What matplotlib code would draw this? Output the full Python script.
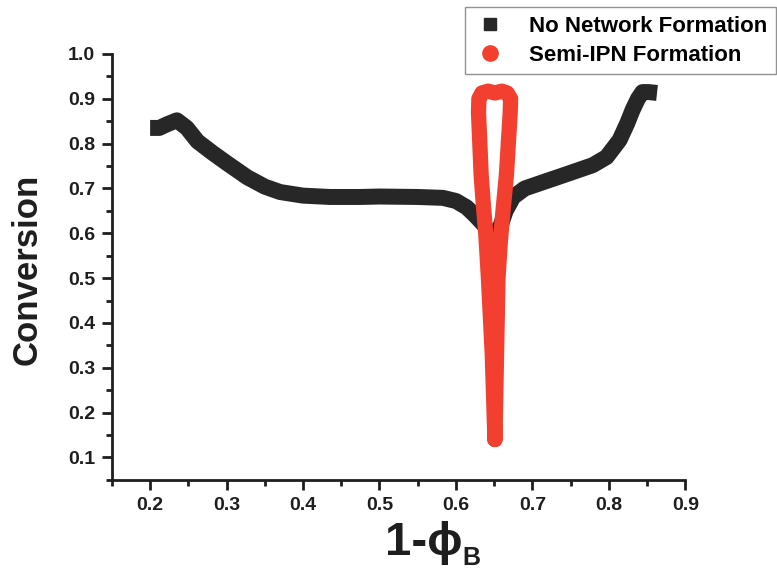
import matplotlib
matplotlib.use('Agg')
import matplotlib.pyplot as plt
from matplotlib.lines import Line2D
from matplotlib.ticker import MultipleLocator

plt.rcParams['font.family'] = ['Liberation Sans', 'DejaVu Sans']
plt.rcParams['font.weight'] = 'bold'

# No network formation (black band)
x_none = [0.200, 0.212, 0.222, 0.235, 0.248, 0.262, 0.282, 0.300, 0.327,
          0.350, 0.370, 0.400, 0.435, 0.475, 0.500, 0.550, 0.583, 0.600,
          0.614, 0.625, 0.636, 0.645, 0.650, 0.656, 0.665, 0.675, 0.690,
          0.714, 0.745, 0.779, 0.797, 0.814, 0.824, 0.831, 0.838, 0.844,
          0.852, 0.863]
y_none = [0.835, 0.835, 0.843, 0.852, 0.835, 0.805, 0.779, 0.757, 0.725,
          0.704, 0.692, 0.684, 0.681, 0.681, 0.682, 0.681, 0.679, 0.672,
          0.658, 0.640, 0.620, 0.598, 0.585, 0.605, 0.650, 0.681, 0.700,
          0.714, 0.732, 0.752, 0.770, 0.808, 0.845, 0.875, 0.900, 0.915,
          0.915, 0.913]

# Semi-IPN formation (red loop)
x_ipn = [0.651, 0.6475, 0.6425, 0.639, 0.636, 0.633, 0.6295, 0.630, 0.634,
         0.642, 0.651, 0.660, 0.667, 0.6715, 0.671, 0.666, 0.661, 0.658,
         0.655, 0.651]
y_ipn = [0.140, 0.330, 0.500, 0.600, 0.660, 0.730, 0.870, 0.900, 0.913,
         0.917, 0.913, 0.917, 0.913, 0.900, 0.870, 0.730, 0.640, 0.580,
         0.500, 0.140]

x_ticks = [0.2, 0.3, 0.4, 0.5, 0.6, 0.7, 0.8, 0.9]
y_ticks = [0.1, 0.2, 0.3, 0.4, 0.5, 0.6, 0.7, 0.8, 0.9, 1.0]

black = '#272727'
red = '#f23f2f'
ink = '#1e1e1e'

fig = plt.figure(figsize=(7.77, 5.74), dpi=100)
ax = fig.add_axes([0.144, 0.164, 0.738, 0.742])

ax.plot(x_none, y_none, color=black, lw=11.5, solid_joinstyle='round',
        solid_capstyle='butt', zorder=2)
ax.plot(x_ipn, y_ipn, color=red, lw=11, solid_joinstyle='round',
        solid_capstyle='round', zorder=3)

ax.set_xlim(0.15, 0.9)
ax.set_ylim(0.05, 1.0)
ax.set_xticks(x_ticks)
ax.set_yticks(y_ticks)
ax.set_xticklabels([f'{v:.1f}' for v in x_ticks])
ax.set_yticklabels([f'{v:.1f}' for v in y_ticks])
ax.xaxis.set_minor_locator(MultipleLocator(0.05))
ax.yaxis.set_minor_locator(MultipleLocator(0.05))

for side in ['top', 'right']:
    ax.spines[side].set_visible(False)
for side in ['left', 'bottom']:
    ax.spines[side].set_linewidth(2)
    ax.spines[side].set_color(ink)

ax.tick_params(which='major', direction='out', length=7, width=2,
               labelsize=14, pad=5, colors=ink)
ax.tick_params(which='minor', direction='out', length=4, width=2,
               colors=ink)

fig.text(0.035, 0.53, 'Conversion', rotation=90, fontsize=25,
         fontweight='bold', ha='center', va='center', color=ink)
fig.text(385 / 777, 1 - 555 / 574, '1-\u03d5', fontsize=34,
         fontweight='bold', ha='left', va='baseline', color=ink)
fig.text(462 / 777, 1 - 565 / 574, 'B', fontsize=18,
         fontweight='bold', ha='left', va='baseline', color=ink)

handles = [
    Line2D([], [], ls='none', marker='s', ms=9, color=black),
    Line2D([], [], ls='none', marker='o', ms=11, color=red),
]
leg = fig.legend(handles, ['No Network Formation', 'Semi-IPN Formation'],
                 loc='upper right', bbox_to_anchor=(0.999, 0.988),
                 fontsize=16, frameon=True, fancybox=False,
                 edgecolor='#777777', handlelength=1.5, handletextpad=1.0,
                 borderpad=0.4, labelspacing=0.35, borderaxespad=0)
leg.get_frame().set_linewidth(1)

fig.savefig('out.png', dpi=100)
